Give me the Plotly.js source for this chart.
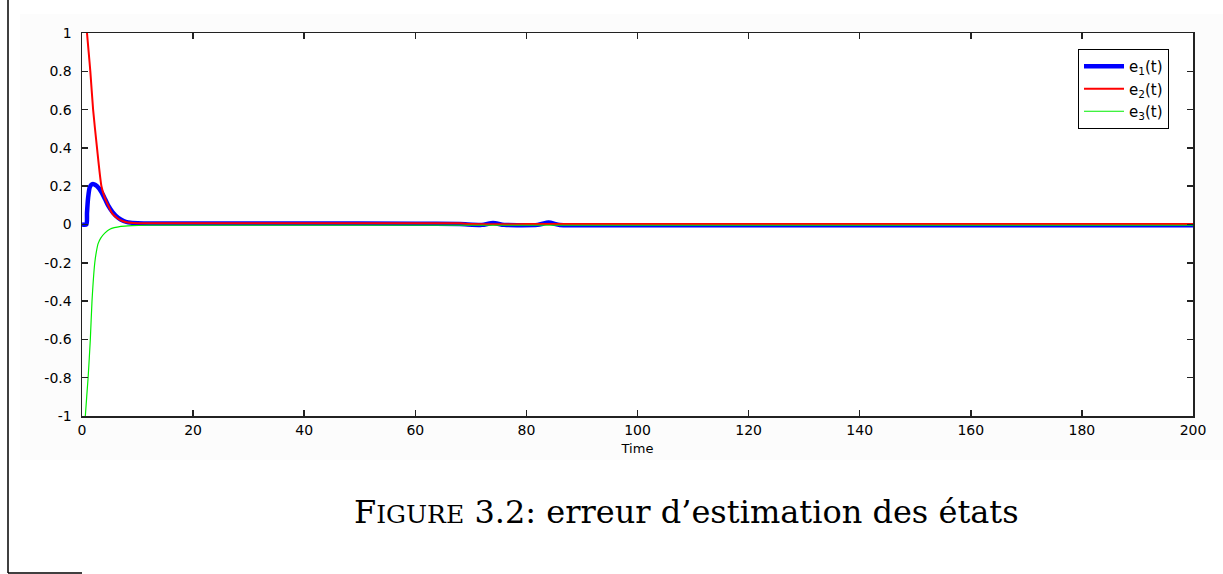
<!DOCTYPE html>
<html>
<head>
<meta charset="utf-8">
<script src="https://cdn.plot.ly/plotly-3.0.1.min.js"></script>
<style>html,body{margin:0;padding:0;background:#fff;}#chart{width:1223px;height:574px;}</style>
</head>
<body>
<div id="chart"></div>
<script>
// e1(t)
const tE1 = [0, 0.8, 0.9, 1.1, 1.4, 1.8, 2.2, 2.7, 3.5, 4.2, 4.7, 5.5, 6.5, 7.5, 8.3, 10, 20, 40, 60, 68, 72, 74, 76, 82, 84, 86, 90, 100, 150, 200];
const e1  = [0, 0, 0.06, 0.14, 0.195, 0.21, 0.21, 0.2, 0.17, 0.13, 0.1, 0.065, 0.035, 0.018, 0.011, 0.006, 0.005, 0.005, 0.004, 0.002, -0.002, 0.008, -0.002, -0.002, 0.01, -0.003, -0.004, -0.004, -0.004, -0.004];
// e2(t)
const tE2 = [0, 0.5, 0.9, 1.2, 1.5, 2.0, 2.7, 3.5, 4.1, 4.7, 5.5, 6.5, 7.3, 8.3, 10, 12, 20, 40, 60, 68, 70, 80, 90, 100, 150, 200];
const e2  = [1.45, 1.15, 1.0, 0.9, 0.8, 0.6, 0.4, 0.2, 0.14, 0.1, 0.055, 0.03, 0.018, 0.01, 0.007, 0.006, 0.006, 0.006, 0.006, 0.006, 0.002, 0.002, 0.003, 0.003, 0.003, 0.003];
// e3(t)
const tE3 = [0, 0.3, 0.6, 1.1, 1.5, 1.8, 2.3, 2.6, 2.9, 3.4, 4.1, 5.0, 7, 9, 12, 200];
const e3  = [-1.5, -1.2, -1.0, -0.8, -0.6, -0.4, -0.2, -0.14, -0.1, -0.07, -0.045, -0.025, -0.01, -0.006, -0.004, -0.004];

const seriesNames = ['e<sub>1</sub>(t)', 'e<sub>2</sub>(t)', 'e<sub>3</sub>(t)'];
const xTickVals = [0, 20, 40, 60, 80, 100, 120, 140, 160, 180, 200];
const xTickText = ['0', '20', '40', '60', '80', '100', '120', '140', '160', '180', '200'];
const yTickVals = [1, 0.8, 0.6, 0.4, 0.2, 0, -0.2, -0.4, -0.6, -0.8, -1];
const yTickText = ['1', '0.8', '0.6', '0.4', '0.2', '0', '-0.2', '-0.4', '-0.6', '-0.8', '-1'];
const xLabel = 'Time';
const caption = 'F<span style="font-size:25px">IGURE</span> 3.2: erreur d’estimation des états';

// layout geometry (pixels)
const W = 1223, H = 574, L = 82, R = 30, T = 33, B = 158;
const pw = W - L - R, ph = H - T - B;
const px = v => (v - L) / pw;
const py = v => (H - B - v) / ph;

const tickFont = {family: 'DejaVu Sans, Arial, sans-serif', size: 14, color: '#000'};
const bg = '#fcfcfc';

const data = [
  {x: tE1, y: e1, name: seriesNames[0], mode: 'lines', line: {color: '#0000ff', width: 4.5, shape: 'spline', smoothing: 0.6}},
  {x: tE2, y: e2, name: seriesNames[1], mode: 'lines', line: {color: '#ff0000', width: 2, shape: 'spline', smoothing: 0.6}},
  {x: tE3, y: e3, name: seriesNames[2], mode: 'lines', line: {color: '#00ee00', width: 1.2, shape: 'spline', smoothing: 0.6}}
];

const layout = {
  width: W, height: H,
  margin: {l: L, r: R, t: T, b: B, pad: 0},
  paper_bgcolor: '#ffffff',
  plot_bgcolor: '#ffffff',
  showlegend: true,
  font: tickFont,
  xaxis: {
    range: [0, 200], tickmode: 'array', tickvals: xTickVals, ticktext: xTickText,
    ticks: 'inside', ticklen: 6, tickwidth: 1.5, tickcolor: '#222',
    showline: true, linecolor: '#222', linewidth: 1.5, mirror: 'ticks',
    showgrid: false, zeroline: false, tickfont: tickFont, ticklabelstandoff: 1,
    title: {text: xLabel, font: {family: 'DejaVu Sans, Arial, sans-serif', size: 13, color: '#000'}, standoff: 6}
  },
  yaxis: {
    range: [-1, 1], tickmode: 'array', tickvals: yTickVals, ticktext: yTickText,
    ticks: 'inside', ticklen: 6, tickwidth: 1.5, tickcolor: '#222',
    showline: true, linecolor: '#222', linewidth: 1.5, mirror: 'ticks',
    showgrid: false, zeroline: false, tickfont: tickFont, ticklabelstandoff: 6
  },
  legend: {
    x: px(1169), y: py(49), xanchor: 'right', yanchor: 'top',
    bgcolor: '#ffffff', bordercolor: '#000', borderwidth: 1,
    font: {family: 'DejaVu Sans, Arial, sans-serif', size: 15, color: '#000'},
    tracegroupgap: 0, itemwidth: 40
  },
  shapes: [
    // very faint grey frame around the plot area
    {type: 'rect', xref: 'paper', yref: 'paper', x0: px(20), x1: px(1223), y0: py(33), y1: py(14), fillcolor: bg, line: {width: 0}, layer: 'below'},
    {type: 'rect', xref: 'paper', yref: 'paper', x0: px(20), x1: px(1223), y0: py(460), y1: py(416), fillcolor: bg, line: {width: 0}, layer: 'below'},
    {type: 'rect', xref: 'paper', yref: 'paper', x0: px(20), x1: px(82), y0: py(416), y1: py(33), fillcolor: bg, line: {width: 0}, layer: 'below'},
    {type: 'rect', xref: 'paper', yref: 'paper', x0: px(1193), x1: px(1223), y0: py(416), y1: py(33), fillcolor: bg, line: {width: 0}, layer: 'below'},
    // page frame lines
    {type: 'line', xref: 'paper', yref: 'paper', x0: px(8), x1: px(8), y0: py(0), y1: py(573), line: {color: '#000', width: 1.5}},
    {type: 'line', xref: 'paper', yref: 'paper', x0: px(8), x1: px(82), y0: py(573), y1: py(573), line: {color: '#000', width: 1.5}}
  ],
  annotations: [
    {text: caption, xref: 'paper', yref: 'paper', x: px(686), y: py(512), xanchor: 'center', yanchor: 'middle',
     showarrow: false, font: {family: 'DejaVu Serif, Liberation Serif, serif', size: 32, color: '#000'}}
  ]
};

Plotly.newPlot('chart', data, layout, {staticPlot: true, displayModeBar: false});
</script>
</body>
</html>
